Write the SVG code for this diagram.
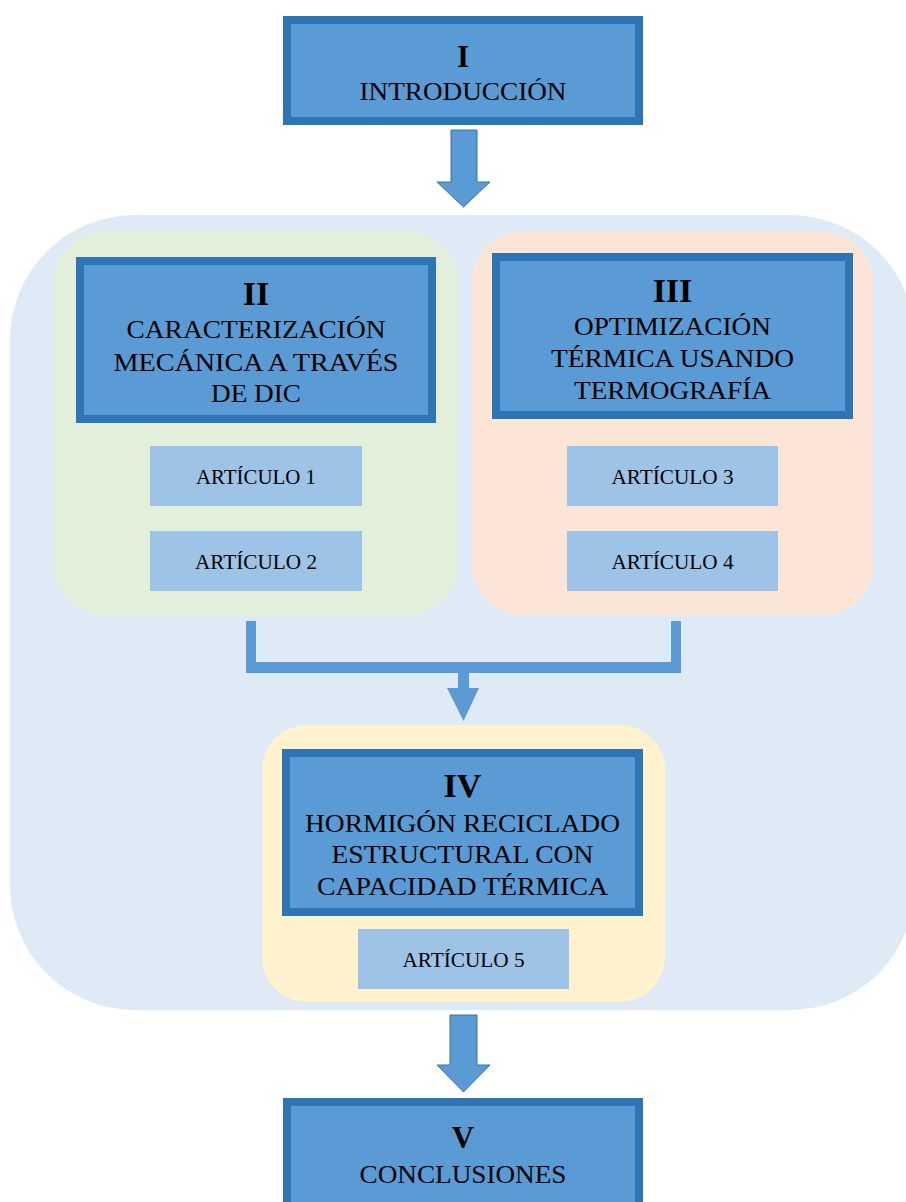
<svg xmlns="http://www.w3.org/2000/svg" width="906" height="1202" viewBox="0 0 906 1202">
<style>
.box{fill:#5B9BD5;stroke:#2E75B6;stroke-width:8}
.art{fill:#9DC3E6}
.num{font-family:"Liberation Serif",serif;font-weight:bold;font-size:34px;fill:#000;text-anchor:middle}
.num2{font-family:"Liberation Serif",serif;font-weight:bold;font-size:31px;fill:#000;text-anchor:middle}
.t{font-family:"Liberation Serif",serif;font-size:26px;fill:#000;text-anchor:middle}
.a{font-family:"Liberation Serif",serif;font-size:20px;fill:#000;text-anchor:middle}
.arrow{fill:#5B9BD5;stroke:#41719C;stroke-width:1}
.conn{fill:#5B9BD5}
</style>
<rect width="906" height="1202" fill="#FFFFFF"/>
<g id="panel-main"><rect x="10" y="215" width="905" height="795" rx="125" fill="#DEEAF6"/></g>
<g id="panel-II"><rect x="54" y="232" width="404" height="383" rx="50" fill="#E2EFDA"/></g>
<g id="panel-III"><rect x="472" y="232" width="401" height="383" rx="50" fill="#FBE5D6"/></g>
<g id="panel-IV"><rect x="262" y="725" width="403" height="277" rx="45" fill="#FFF2CC"/></g>

<g id="node-I">
<rect class="box" x="287" y="20" width="352" height="101"/>
<text class="num2" x="463" y="67">I</text>
<text class="t" x="463" y="100" textLength="207" lengthAdjust="spacingAndGlyphs">INTRODUCCIÓN</text>
</g>

<g id="node-II">
<rect class="box" x="80" y="261" width="352" height="158"/>
<text class="num" x="256" y="305">II</text>
<text class="t" x="256" y="338" textLength="259" lengthAdjust="spacingAndGlyphs">CARACTERIZACIÓN</text>
<text class="t" x="256" y="371" textLength="285" lengthAdjust="spacingAndGlyphs">MECÁNICA A TRAVÉS</text>
<text class="t" x="256" y="402" textLength="90" lengthAdjust="spacingAndGlyphs">DE DIC</text>
</g>
<g id="art-1"><rect class="art" x="150" y="446" width="212" height="60"/><text class="a" x="256" y="484" textLength="120" lengthAdjust="spacingAndGlyphs">ARTÍCULO 1</text></g>
<g id="art-2"><rect class="art" x="150" y="531" width="212" height="60"/><text class="a" x="256" y="569" textLength="122" lengthAdjust="spacingAndGlyphs">ARTÍCULO 2</text></g>

<g id="node-III">
<rect class="box" x="496" y="257" width="353" height="158"/>
<text class="num" x="672.5" y="302">III</text>
<text class="t" x="672.5" y="335" textLength="197" lengthAdjust="spacingAndGlyphs">OPTIMIZACIÓN</text>
<text class="t" x="672.5" y="367" textLength="243" lengthAdjust="spacingAndGlyphs">TÉRMICA USANDO</text>
<text class="t" x="672.5" y="399" textLength="197" lengthAdjust="spacingAndGlyphs">TERMOGRAFÍA</text>
</g>
<g id="art-3"><rect class="art" x="567" y="446" width="211" height="60"/><text class="a" x="672.5" y="484" textLength="122" lengthAdjust="spacingAndGlyphs">ARTÍCULO 3</text></g>
<g id="art-4"><rect class="art" x="567" y="531" width="211" height="60"/><text class="a" x="672.5" y="569" textLength="122" lengthAdjust="spacingAndGlyphs">ARTÍCULO 4</text></g>

<g id="node-IV">
<rect class="box" x="286" y="753" width="353" height="159"/>
<text class="num" x="462.5" y="797">IV</text>
<text class="t" x="462.5" y="832" textLength="315" lengthAdjust="spacingAndGlyphs">HORMIGÓN RECICLADO</text>
<text class="t" x="462.5" y="863" textLength="262" lengthAdjust="spacingAndGlyphs">ESTRUCTURAL CON</text>
<text class="t" x="462.5" y="895" textLength="291" lengthAdjust="spacingAndGlyphs">CAPACIDAD TÉRMICA</text>
</g>
<g id="art-5"><rect class="art" x="358" y="929" width="211" height="60"/><text class="a" x="463.5" y="967" textLength="122" lengthAdjust="spacingAndGlyphs">ARTÍCULO 5</text></g>

<g id="node-V">
<rect class="box" x="287" y="1102" width="352" height="120"/>
<text class="num2" x="463" y="1148">V</text>
<text class="t" x="463" y="1183" textLength="207" lengthAdjust="spacingAndGlyphs">CONCLUSIONES</text>
</g>

<g id="connectors">
<polygon class="arrow" points="451,130 477,130 477,182 490,182 463.5,207 437,182 451,182"/>
<path class="conn" d="M246,621 H256 V662 H671 V621 H681 V673 H469 V688 H479 L463.5,721 L447,688 H458 V673 H246 Z"/>
<polygon class="arrow" points="450,1015 477,1015 477,1065 490,1065 463.5,1092 437,1065 450,1065"/>
</g>
</svg>
